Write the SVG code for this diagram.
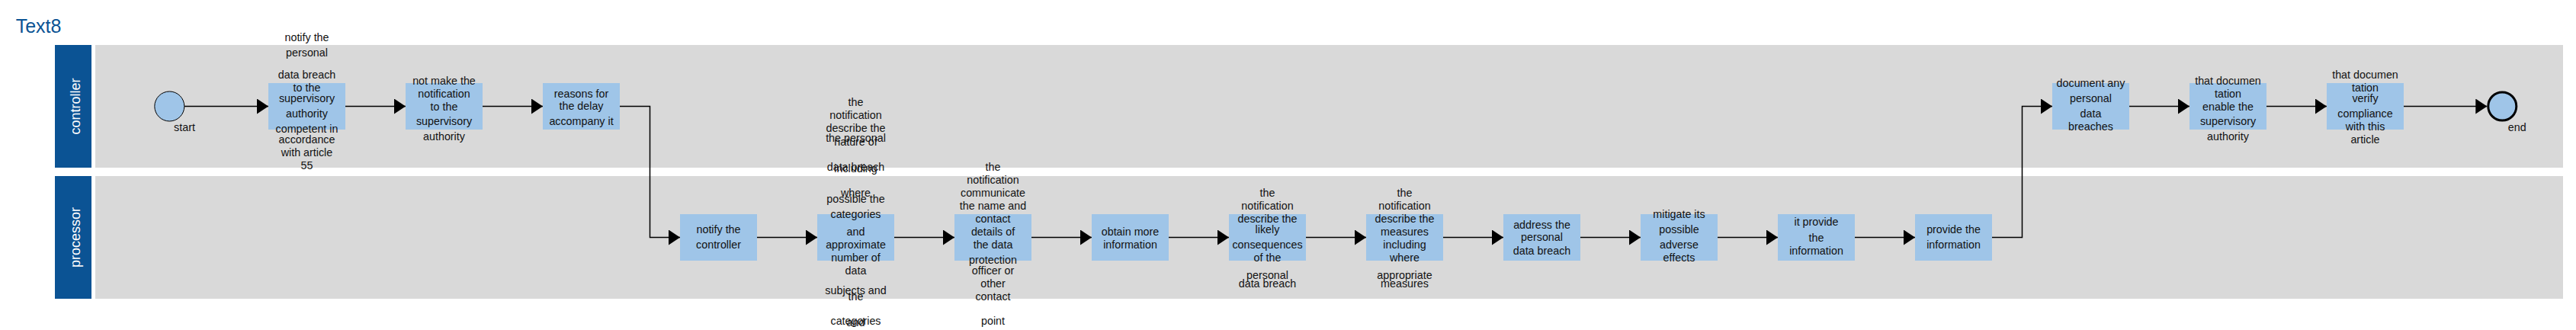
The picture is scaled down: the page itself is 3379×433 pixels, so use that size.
<svg xmlns="http://www.w3.org/2000/svg" width="3379" height="433" viewBox="0 0 3379 433">
<style>
.bg{fill:#ffffff}
.lanehead{fill:#0b5394}
.lanebody{fill:#d9d9d9}
.lanelabel{font-family:"Liberation Sans",Arial,sans-serif;font-size:18px;fill:#ffffff;text-anchor:middle}
.task{fill:#9fc5e8}
.lbl{font-family:"Liberation Sans",Arial,sans-serif;font-size:14.3px;fill:#111111;text-anchor:middle}
.title{font-family:"Liberation Sans",Arial,sans-serif;font-size:25px;fill:#0b5394}
.conn{fill:none;stroke:#000000;stroke-width:1.5}
.start{fill:#9fc5e8;stroke:#000000;stroke-width:1}
.end{fill:#9fc5e8;stroke:#000000;stroke-width:3}
</style>
<defs>
<marker id="arrow" markerUnits="userSpaceOnUse" markerWidth="15" markerHeight="20" refX="15" refY="10" orient="auto">
<path d="M0,0 L15,10 L0,20 Z" fill="#000000"/>
</marker>
</defs>
<rect class="bg" x="0" y="0" width="3379" height="433"/>
<text class="title" x="20.7" y="43.3">Text8</text>

<g id="lane-controller">
<rect class="lanehead" x="72" y="59" width="48" height="161"/>
<rect class="lanebody" x="125" y="59" width="3237" height="161"/>
<text class="lanelabel" x="105" y="139.5" transform="rotate(-90 105 139.5)">controller</text>
</g>
<g id="lane-processor">
<rect class="lanehead" x="72" y="231" width="48" height="161"/>
<rect class="lanebody" x="125" y="231" width="3237" height="161"/>
<text class="lanelabel" x="105" y="311.5" transform="rotate(-90 105 311.5)">processor</text>
</g>

<g id="connectors">
<path class="conn" marker-end="url(#arrow)" d="M242,139.5 H352"/>
<path class="conn" marker-end="url(#arrow)" d="M453,139.5 H532"/>
<path class="conn" marker-end="url(#arrow)" d="M633,139.5 H712"/>
<path class="conn" marker-end="url(#arrow)" d="M813,139.5 H852.5 V311.5 H892"/>
<path class="conn" marker-end="url(#arrow)" d="M993,311.5 H1072"/>
<path class="conn" marker-end="url(#arrow)" d="M1173,311.5 H1252"/>
<path class="conn" marker-end="url(#arrow)" d="M1353,311.5 H1432"/>
<path class="conn" marker-end="url(#arrow)" d="M1533,311.5 H1612"/>
<path class="conn" marker-end="url(#arrow)" d="M1713,311.5 H1792"/>
<path class="conn" marker-end="url(#arrow)" d="M1893,311.5 H1972"/>
<path class="conn" marker-end="url(#arrow)" d="M2073,311.5 H2152"/>
<path class="conn" marker-end="url(#arrow)" d="M2253,311.5 H2332"/>
<path class="conn" marker-end="url(#arrow)" d="M2433,311.5 H2512"/>
<path class="conn" marker-end="url(#arrow)" d="M2613,311.5 H2652.5 V139.5 H2692"/>
<path class="conn" marker-end="url(#arrow)" d="M2793,139.5 H2872"/>
<path class="conn" marker-end="url(#arrow)" d="M2973,139.5 H3052"/>
<path class="conn" marker-end="url(#arrow)" d="M3153,139.5 H3262.3"/>
</g>

<g id="start">
<circle class="start" cx="222.3" cy="139.5" r="19.5"/>
<text class="lbl" x="242" y="172">start</text>
</g>

<g id="t1">
<rect class="task" x="352" y="109" width="101" height="61"/>
<text class="lbl"><tspan x="402.5" y="54">notify the</tspan><tspan x="402.5" y="74.3">personal</tspan><tspan x="402.5" y="103.3">data breach</tspan><tspan x="402.5" y="120">to the</tspan><tspan x="402.5" y="134.3">supervisory</tspan><tspan x="402.5" y="154.3">authority</tspan><tspan x="402.5" y="174.3">competent in</tspan><tspan x="402.5" y="188.3">accordance</tspan><tspan x="402.5" y="205">with article</tspan><tspan x="402.5" y="222">55</tspan></text>
</g>
<g id="t2">
<rect class="task" x="532" y="109" width="101" height="61"/>
<text class="lbl"><tspan x="582.5" y="111">not make the</tspan><tspan x="582.5" y="128.3">notification</tspan><tspan x="582.5" y="145">to the</tspan><tspan x="582.5" y="164.3">supervisory</tspan><tspan x="582.5" y="184.3">authority</tspan></text>
</g>
<g id="t3">
<rect class="task" x="712" y="109" width="101" height="61"/>
<text class="lbl"><tspan x="762.5" y="128.3">reasons for</tspan><tspan x="762.5" y="144.3">the delay</tspan><tspan x="762.5" y="164.3">accompany it</tspan></text>
</g>
<g id="p1">
<rect class="task" x="892" y="281" width="101" height="61"/>
<text class="lbl"><tspan x="942.5" y="306">notify the</tspan><tspan x="942.5" y="326">controller</tspan></text>
</g>
<g id="p2">
<rect class="task" x="1072" y="281" width="101" height="61"/>
<text class="lbl"><tspan x="1122.5" y="139">the</tspan><tspan x="1122.5" y="156.3">notification</tspan><tspan x="1122.5" y="173.3">describe the</tspan><tspan x="1122.5" y="190.7">nature of</tspan><tspan x="1122.5" y="226.3">including</tspan><tspan x="1122.5" y="258.3">where</tspan><tspan x="1122.5" y="394.3">the</tspan><tspan x="1122.5" y="428.3">and</tspan></text>
<text class="lbl"><tspan x="1122.5" y="186">the personal</tspan><tspan x="1122.5" y="224.3">data breach</tspan><tspan x="1122.5" y="266.3">possible the</tspan><tspan x="1122.5" y="286.3">categories</tspan><tspan x="1122.5" y="309.3">and</tspan><tspan x="1122.5" y="326.3">approximate</tspan><tspan x="1122.5" y="343.3">number of</tspan><tspan x="1122.5" y="360.3">data</tspan><tspan x="1122.5" y="386">subjects and</tspan><tspan x="1122.5" y="426">categories</tspan></text>
</g>
<g id="p3">
<rect class="task" x="1252" y="281" width="101" height="61"/>
<text class="lbl"><tspan x="1302.5" y="224">the</tspan><tspan x="1302.5" y="241">notification</tspan><tspan x="1302.5" y="258">communicate</tspan><tspan x="1302.5" y="275">the name and</tspan><tspan x="1302.5" y="292">contact</tspan><tspan x="1302.5" y="309.3">details of</tspan><tspan x="1302.5" y="326">the data</tspan><tspan x="1302.5" y="346.3">protection</tspan><tspan x="1302.5" y="360.3">officer or</tspan><tspan x="1302.5" y="377.3">other</tspan><tspan x="1302.5" y="394">contact</tspan><tspan x="1302.5" y="426">point</tspan></text>
</g>
<g id="p4">
<rect class="task" x="1432" y="281" width="101" height="61"/>
<text class="lbl"><tspan x="1482.5" y="309.3">obtain more</tspan><tspan x="1482.5" y="326.3">information</tspan></text>
</g>
<g id="p5">
<rect class="task" x="1612" y="281" width="101" height="61"/>
<text class="lbl"><tspan x="1662.5" y="258.3">the</tspan><tspan x="1662.5" y="275">notification</tspan><tspan x="1662.5" y="292">describe the</tspan><tspan x="1662.5" y="306">likely</tspan><tspan x="1662.5" y="326.3">consequences</tspan><tspan x="1662.5" y="343.3">of the</tspan><tspan x="1662.5" y="366.3">personal</tspan><tspan x="1662.5" y="377.3">data breach</tspan></text>
</g>
<g id="p6">
<rect class="task" x="1792" y="281" width="101" height="61"/>
<text class="lbl"><tspan x="1842.5" y="258.3">the</tspan><tspan x="1842.5" y="275">notification</tspan><tspan x="1842.5" y="292">describe the</tspan><tspan x="1842.5" y="309.3">measures</tspan><tspan x="1842.5" y="326.3">including</tspan><tspan x="1842.5" y="343.3">where</tspan><tspan x="1842.5" y="366.3">appropriate</tspan><tspan x="1842.5" y="377.3">measures</tspan></text>
</g>
<g id="p7">
<rect class="task" x="1972" y="281" width="101" height="61"/>
<text class="lbl"><tspan x="2022.5" y="300">address the</tspan><tspan x="2022.5" y="316.3">personal</tspan><tspan x="2022.5" y="334">data breach</tspan></text>
</g>
<g id="p8">
<rect class="task" x="2152" y="281" width="101" height="61"/>
<text class="lbl"><tspan x="2202.5" y="286">mitigate its</tspan><tspan x="2202.5" y="306">possible</tspan><tspan x="2202.5" y="326.3">adverse</tspan><tspan x="2202.5" y="343.3">effects</tspan></text>
</g>
<g id="p9">
<rect class="task" x="2332" y="281" width="101" height="61"/>
<text class="lbl"><tspan x="2382.5" y="296">it provide</tspan><tspan x="2382.5" y="317.3">the</tspan><tspan x="2382.5" y="334">information</tspan></text>
</g>
<g id="p10">
<rect class="task" x="2512" y="281" width="101" height="61"/>
<text class="lbl"><tspan x="2562.5" y="306">provide the</tspan><tspan x="2562.5" y="326">information</tspan></text>
</g>
<g id="t4">
<rect class="task" x="2692" y="109" width="101" height="61"/>
<text class="lbl"><tspan x="2742.5" y="114">document any</tspan><tspan x="2742.5" y="134.3">personal</tspan><tspan x="2742.5" y="154.3">data</tspan><tspan x="2742.5" y="171">breaches</tspan></text>
</g>
<g id="t5">
<rect class="task" x="2872" y="109" width="101" height="61"/>
<text class="lbl"><tspan x="2922.5" y="111">that documen</tspan><tspan x="2922.5" y="128.3">tation</tspan><tspan x="2922.5" y="145">enable the</tspan><tspan x="2922.5" y="164.3">supervisory</tspan><tspan x="2922.5" y="184.3">authority</tspan></text>
</g>
<g id="t6">
<rect class="task" x="3052" y="109" width="101" height="61"/>
<text class="lbl"><tspan x="3102.5" y="103.3">that documen</tspan><tspan x="3102.5" y="120">tation</tspan><tspan x="3102.5" y="134.3">verify</tspan><tspan x="3102.5" y="154.3">compliance</tspan><tspan x="3102.5" y="171">with this</tspan><tspan x="3102.5" y="188">article</tspan></text>
</g>

<g id="end">
<circle class="end" cx="3282.3" cy="139.5" r="18.5"/>
<text class="lbl" x="3301.7" y="172">end</text>
</g>
</svg>
